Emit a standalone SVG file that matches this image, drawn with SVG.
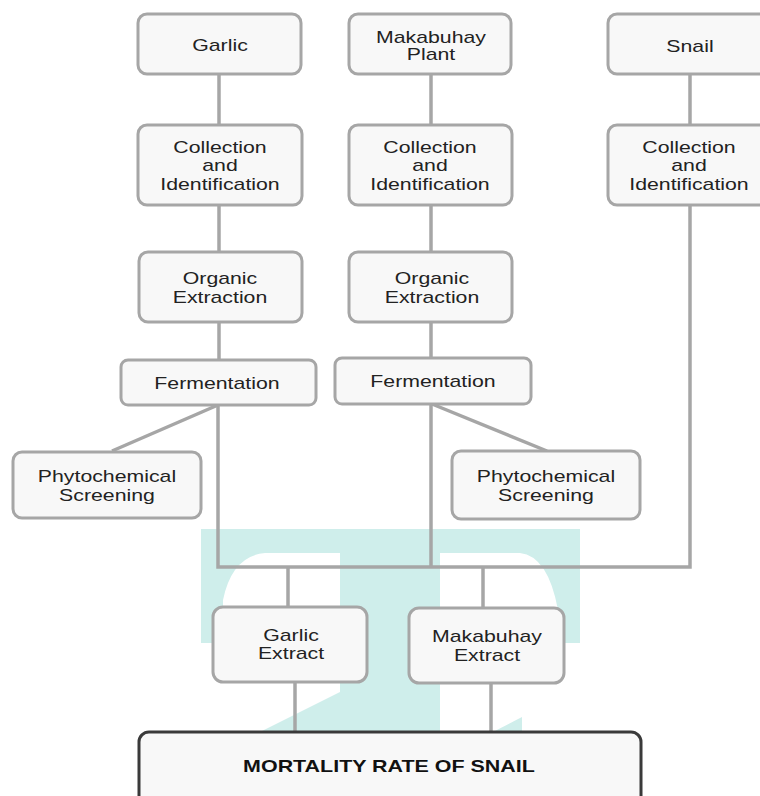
<svg xmlns="http://www.w3.org/2000/svg" width="760" height="796" viewBox="0 0 760 796">
<style>
.bg{fill:#ffffff}
.wm{fill:#cfeeeb}
.box rect{fill:#f8f8f8;stroke:#a6a6a6;stroke-width:3}
.final rect{fill:#f8f8f8;stroke:#3a3a3a;stroke-width:3}
.conn line,.conn polyline{stroke:#a6a6a6;stroke-width:3.5;fill:none}
text{font-family:"Liberation Sans",Arial,sans-serif;font-size:16px;fill:#222;text-anchor:middle}
.bold{font-weight:bold;font-size:16.5px;fill:#111}
</style>
<rect class="bg" x="0" y="0" width="760" height="796"/>
<g id="watermark">
<path class="wm" d="M201,529 H580 V643 H558 V610 Q548,556 520,553 H440 V735 H340 V553 H265 Q232,556 223,600 V643 H201 Z"/>
<polygon class="wm" points="260,732 340,692 340,732"/>
<polygon class="wm" points="493,732 522,717 522,732"/>
</g>
<g id="connectors" class="conn">
<line x1="219" y1="74" x2="219" y2="125"/>
<line x1="431" y1="74" x2="431" y2="125"/>
<line x1="690" y1="74" x2="690" y2="125"/>
<line x1="219" y1="205" x2="219" y2="252"/>
<line x1="431" y1="205" x2="431" y2="252"/>
<line x1="219" y1="322" x2="219" y2="360"/>
<line x1="431" y1="322" x2="431" y2="358"/>
<line x1="218" y1="405" x2="112" y2="451"/>
<line x1="432" y1="404" x2="547" y2="451"/>
<polyline points="218,405 218,567 690,567 690,205"/>
<line x1="431" y1="404" x2="431" y2="567"/>
<line x1="288" y1="567" x2="288" y2="607"/>
<line x1="483" y1="567" x2="483" y2="608"/>
<line x1="295" y1="682" x2="295" y2="732"/>
<line x1="491" y1="683" x2="491" y2="732"/>
</g>
<g id="garlic" class="box"><rect x="138" y="14" width="163" height="60" rx="9"/><text transform="translate(220,51) scale(1.33,1)">Garlic</text></g>
<g id="makabuhay" class="box"><rect x="349" y="14" width="162" height="60" rx="9"/><text transform="translate(431,0) scale(1.33,1)"><tspan x="0" y="43">Makabuhay</tspan><tspan x="0" y="60">Plant</tspan></text></g>
<g id="snail" class="box"><rect x="608" y="14" width="164" height="60" rx="9"/><text transform="translate(690,52) scale(1.33,1)">Snail</text></g>
<g id="collect-garlic" class="box"><rect x="138" y="125" width="164" height="80" rx="9"/><text transform="translate(220,0) scale(1.33,1)"><tspan x="0" y="153">Collection</tspan><tspan x="0" y="171.5">and</tspan><tspan x="0" y="190">Identification</tspan></text></g>
<g id="collect-makabuhay" class="box"><rect x="349" y="125" width="163" height="80" rx="9"/><text transform="translate(430,0) scale(1.33,1)"><tspan x="0" y="153">Collection</tspan><tspan x="0" y="171.5">and</tspan><tspan x="0" y="190">Identification</tspan></text></g>
<g id="collect-snail" class="box"><rect x="608" y="125" width="164" height="80" rx="9"/><text transform="translate(689,0) scale(1.33,1)"><tspan x="0" y="153">Collection</tspan><tspan x="0" y="171.5">and</tspan><tspan x="0" y="190">Identification</tspan></text></g>
<g id="organic-garlic" class="box"><rect x="139" y="252" width="163" height="70" rx="9"/><text transform="translate(220,0) scale(1.33,1)"><tspan x="0" y="284">Organic</tspan><tspan x="0" y="303">Extraction</tspan></text></g>
<g id="organic-makabuhay" class="box"><rect x="349" y="252" width="163" height="70" rx="9"/><text transform="translate(432,0) scale(1.33,1)"><tspan x="0" y="284">Organic</tspan><tspan x="0" y="303">Extraction</tspan></text></g>
<g id="ferment-garlic" class="box"><rect x="121" y="360" width="195" height="45" rx="7"/><text transform="translate(217,389) scale(1.33,1)">Fermentation</text></g>
<g id="ferment-makabuhay" class="box"><rect x="335" y="358" width="196" height="46" rx="7"/><text transform="translate(433,387) scale(1.33,1)">Fermentation</text></g>
<g id="phyto-garlic" class="box"><rect x="13" y="452" width="188" height="66" rx="9"/><text transform="translate(107,0) scale(1.33,1)"><tspan x="0" y="482">Phytochemical</tspan><tspan x="0" y="501">Screening</tspan></text></g>
<g id="phyto-makabuhay" class="box"><rect x="452" y="451" width="188" height="68" rx="9"/><text transform="translate(546,0) scale(1.33,1)"><tspan x="0" y="482">Phytochemical</tspan><tspan x="0" y="501">Screening</tspan></text></g>
<g id="garlic-extract" class="box"><rect x="213" y="607" width="154" height="75" rx="10"/><text transform="translate(291,0) scale(1.33,1)"><tspan x="0" y="641">Garlic</tspan><tspan x="0" y="659">Extract</tspan></text></g>
<g id="makabuhay-extract" class="box"><rect x="409" y="608" width="155" height="75" rx="10"/><text transform="translate(487,0) scale(1.33,1)"><tspan x="0" y="642">Makabuhay</tspan><tspan x="0" y="661">Extract</tspan></text></g>
<g id="mortality" class="final"><rect x="139" y="732" width="502" height="80" rx="10"/><text class="bold" transform="translate(389,772) scale(1.3,1)">MORTALITY RATE OF SNAIL</text></g>
</svg>
